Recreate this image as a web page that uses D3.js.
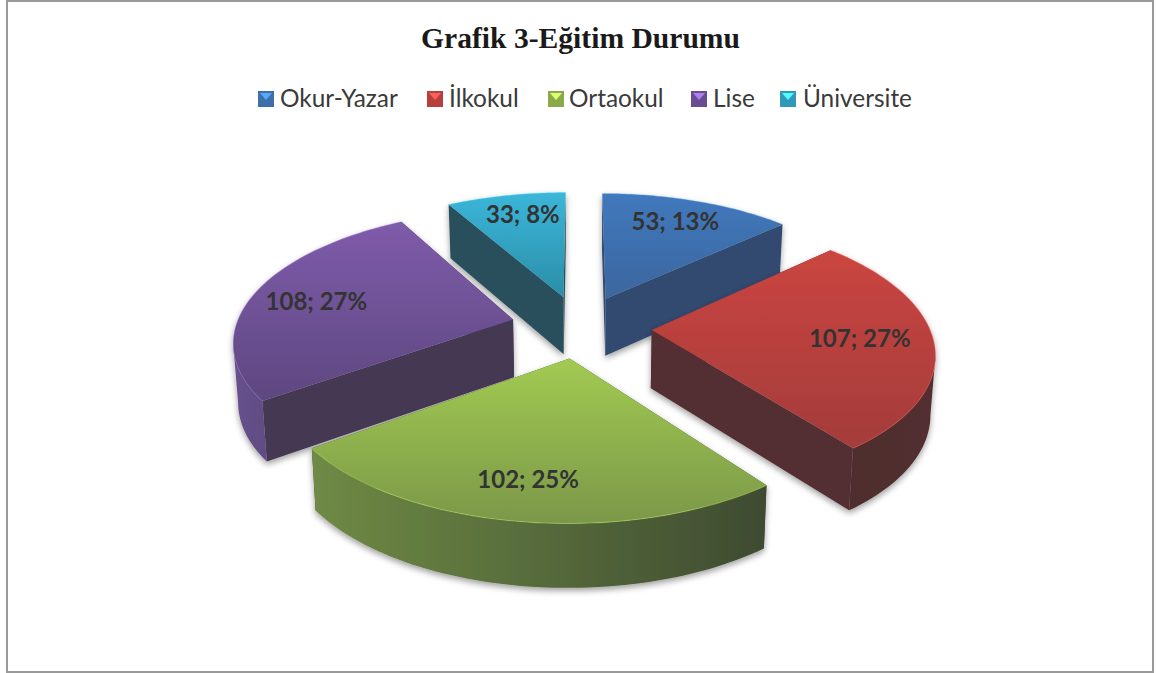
<!DOCTYPE html>
<html><head><meta charset="utf-8">
<script src="https://cdn.jsdelivr.net/npm/d3@7"></script>
<style>html,body{margin:0;padding:0;background:#fff}svg{display:block}</style>
</head><body><svg id="c" width="1157" height="673"></svg>
<script>
const titleText = "Grafik 3-Eğitim Durumu";
const categories = ["Okur-Yazar","İlkokul","Ortaokul","Lise","Üniversite"];
const values = [53,107,102,108,33];
const percents = [13,27,25,27,8];
const topLight = ["#4079bd","#cb4541","#a2ca52","#7f5bab","#3bb6d9"];
const topDark = ["#3c669e","#a33c3a","#7b9849","#5e4880","#2a8ea8"];
const wallLight = ["#314c75","#4e2c2e","#6f8a45","#67518e","#2f5664"];
const wallDark = ["#304a70","#522f30","#3e4b31","#453852","#2c4f5b"];
const legendSwatch = ["#3f6fa8","#b5403d","#8aa94a","#6a4c92","#3199b8"];
const explodeAngle = [23.6,97,188.5,282,345];
const explodeDist = [66,72,68,69,66];
const labelAngle = [23,95,189,281,347];
const labelFrac = [.76,.74,.78,.75,.78];
const drawOrder = [4,0,3,1,2];
const legendX = [258,427,548,691,780];
const legendTextX = [280,449,569,713,803];

const svg = d3.select("#c");
const R=277, CX=580, CY=326, K=.00055, T=.465, H=58, SHRINK=.986;
const rad = d => d*Math.PI/180;
const project = (X,Z,bottom) => {
  const p = 1/(1-K*Z), s = bottom ? SHRINK : 1;
  return [CX + X*p*s, CY + Z*T*p + (bottom ? H*Math.sqrt(p) : 0)];
};
const pie = d3.pie().sort(null)(values);
const line = d3.line();
const defs = svg.append("defs");
const f = defs.append("filter").attr("id","sh").attr("x","-10%").attr("y","-10%").attr("width","120%").attr("height","125%");
f.append("feDropShadow").attr("dx",0).attr("dy",3).attr("stdDeviation",3).attr("flood-color","#000").attr("flood-opacity",.38);

svg.append("rect").attr("x",7).attr("y",1).attr("width",1146).attr("height",671).attr("fill","#fff").attr("stroke","#999").attr("stroke-width",2);
svg.append("text").attr("x",580.5).attr("y",48).attr("text-anchor","middle").attr("font-family","Liberation Serif").attr("font-weight","bold").attr("font-size",29.6).attr("fill","#1a1a1a").text(titleText);

const lg = svg.append("g");
categories.forEach((c,i)=>{
  const g = lg.append("g");
  g.append("rect").attr("x",legendX[i]).attr("y",91).attr("width",16).attr("height",16).attr("fill",legendSwatch[i]);
  g.append("path").attr("transform",`translate(${legendX[i]},91)`).attr("d","M2,2L14,2L8,9Z").attr("fill",d3.color(topLight[i]).brighter(.9));
  g.append("text").attr("x",legendTextX[i]).attr("y",107).attr("font-family","Lato").attr("font-size",24.4).attr("fill","#3a3a3a").text(c);
});

const offset = i => [explodeDist[i]*Math.sin(rad(explodeAngle[i])), -explodeDist[i]*Math.cos(rad(explodeAngle[i]))];

drawOrder.forEach(i=>{
  const d = pie[i], a0=d.startAngle, a1=d.endAngle;
  const [ex,ez] = offset(i);
  const pt = (a,r,b)=>project(ex+r*Math.sin(a), ez-r*Math.cos(a), b);
  const angles = d3.range(0,61).map(t=>a0+(a1-a0)*t/60);
  const arc = b=>angles.map(a=>pt(a,R,b));
  const topPts = [pt(0,0,false),...arc(false)];
  const g = svg.append("g").attr("filter","url(#sh)");
  const xs = arc(false).map(p=>p[0]);
  const ys = topPts.map(p=>p[1]);
  const wg = defs.append("linearGradient").attr("id","w"+i).attr("gradientUnits","userSpaceOnUse")
    .attr("x1",d3.min(xs)).attr("x2",d3.max(xs)).attr("y1",0).attr("y2",0);
  wg.append("stop").attr("offset",0).attr("stop-color",wallLight[i]);
  wg.append("stop").attr("offset",1).attr("stop-color",wallDark[i]);
  const tg = defs.append("linearGradient").attr("id","t"+i).attr("gradientUnits","userSpaceOnUse")
    .attr("x1",0).attr("x2",0).attr("y1",d3.min(ys)).attr("y2",d3.max(ys));
  tg.append("stop").attr("offset",0).attr("stop-color",topLight[i]);
  tg.append("stop").attr("offset",1).attr("stop-color",topDark[i]);
  // radial walls first, the outer wall over them, the top face last
  [a0,a1].forEach(a=>{
    const q=[pt(0,0,false),pt(a,R,false),pt(a,R,true),pt(0,0,true)];
    g.append("path").attr("d",line(q)+"Z").attr("fill",wallDark[i]);
  });
  // the visible outer wall runs between the two silhouette angles of the projected rim
  const circle = d3.range(0,720).map(t=>t*Math.PI/360);
  const rightA = d3.greatest(circle,a=>pt(a,R,false)[0]);
  const leftA = d3.least(circle,a=>pt(a,R,false)[0]);
  const facing = [...angles.filter(a=>a>rightA&&a<leftA)];
  if(a0<rightA&&a1>rightA) facing.unshift(rightA);
  if(a0<leftA&&a1>leftA) facing.push(leftA);
  if(facing.length>1){
    const rim=[...facing.map(a=>pt(a,R,false)),...facing.slice().reverse().map(a=>pt(a,R,true))];
    g.append("path").attr("d",line(rim)+"Z").attr("fill",`url(#w${i})`);
  }
  g.append("path").attr("d",line(topPts)+"Z").attr("fill",`url(#t${i})`);
  g.append("path").attr("d",line(arc(false))).attr("fill","none").attr("stroke",d3.color(topLight[i]).brighter(.5)).attr("stroke-width",1.1).attr("stroke-opacity",.4);
});

pie.forEach((d,i)=>{
  const [ex,ez] = offset(i);
  const a = rad(labelAngle[i]), r=R*labelFrac[i];
  const [x,y]=project(ex+r*Math.sin(a),ez-r*Math.cos(a),false);
  svg.append("text").attr("x",x).attr("y",y+8).attr("text-anchor","middle").attr("font-family","Lato").attr("font-weight","bold").attr("font-size",24).attr("fill","#333333").text(`${d.data}; ${percents[i]}%`);
});
</script></body></html>
